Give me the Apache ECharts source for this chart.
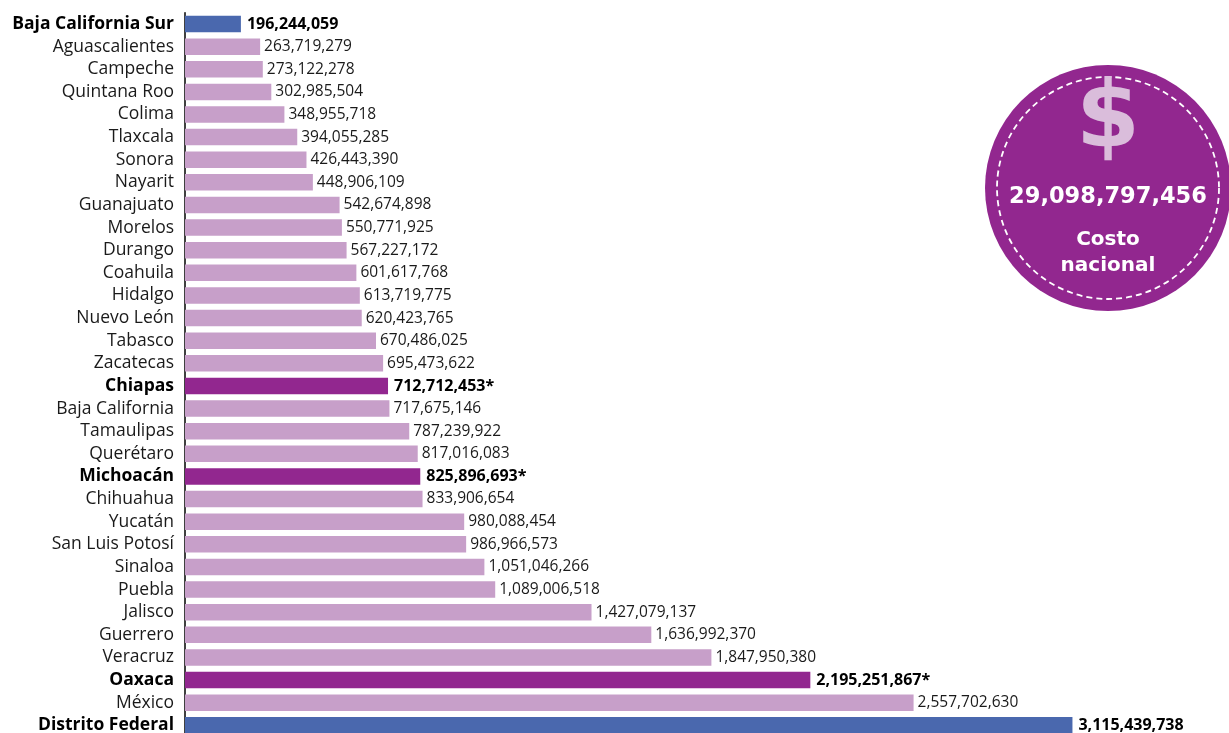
<!DOCTYPE html>
<html>
<head>
<meta charset="utf-8">
<style>
  html, body { margin: 0; padding: 0; background: #ffffff; overflow: hidden; }
  /* the last bar runs past the bottom edge of the window, so the canvas is taller */
  #chart { width: 1229px; height: 760px; }
</style>
<script src="https://cdn.jsdelivr.net/npm/echarts@6/dist/echarts.min.js"></script>
</head>
<body>
<div id="chart"></div>
<script>
// States, listed from the lowest cost to the highest
const states = [
  'Baja California Sur', 'Aguascalientes', 'Campeche', 'Quintana Roo', 'Colima',
  'Tlaxcala', 'Sonora', 'Nayarit', 'Guanajuato', 'Morelos', 'Durango', 'Coahuila',
  'Hidalgo', 'Nuevo León', 'Tabasco', 'Zacatecas', 'Chiapas', 'Baja California',
  'Tamaulipas', 'Querétaro', 'Michoacán', 'Chihuahua', 'Yucatán', 'San Luis Potosí',
  'Sinaloa', 'Puebla', 'Jalisco', 'Guerrero', 'Veracruz', 'Oaxaca', 'México',
  'Distrito Federal'
];

// Cost per state (pesos)
const costs = [
  196244059, 263719279, 273122278, 302985504, 348955718,
  394055285, 426443390, 448906109, 542674898, 550771925, 567227172, 601617768,
  613719775, 620423765, 670486025, 695473622, 712712453, 717675146,
  787239922, 817016083, 825896693, 833906654, 980088454, 986966573,
  1051046266, 1089006518, 1427079137, 1636992370, 1847950380, 2195251867, 2557702630,
  3115439738
];

// Lowest and highest cost
const extremes = ['Baja California Sur', 'Distrito Federal'];
// States whose figure carries a footnote mark
const flagged = ['Chiapas', 'Michoacán', 'Oaxaca'];

const nationalTotal = '29,098,797,456';
const nationalCaption = ['Costo', 'nacional'];

const COL_BASE = '#c79fc9';
const COL_FLAG = '#92278f';
const COL_EXT = '#4a68ae';
const TEXT = '#1a1a1a';

const fmt = v => v.toLocaleString('en-US');
const isStrong = s => extremes.includes(s) || flagged.includes(s);

const barData = states.map((s, i) => ({
  value: costs[i],
  itemStyle: {
    color: extremes.includes(s) ? COL_EXT : (flagged.includes(s) ? COL_FLAG : COL_BASE)
  },
  label: isStrong(s)
    ? { fontWeight: 'bold', fontSize: 16, color: '#000000', distance: 6 }
    : {}
}));

const chart = echarts.init(document.getElementById('chart'), null, { renderer: 'canvas' });

const cx = 1108, cy = 188;

chart.setOption({
  animation: false,
  backgroundColor: '#ffffff',
  grid: { left: 185, top: 12.7, width: 997, height: 723.9 },
  xAxis: {
    type: 'value',
    min: 0,
    max: 3500000000,
    show: false
  },
  yAxis: {
    type: 'category',
    data: states,
    inverse: true,
    axisLine: { show: true, lineStyle: { color: '#000000', width: 1.5 } },
    axisTick: { show: false },
    axisLabel: {
      interval: 0,
      margin: 11,
      fontFamily: 'Open Sans',
      fontSize: 17.5,
      color: TEXT,
      formatter: v => isStrong(v) ? '{b|' + v + '}' : v,
      rich: {
        b: { fontFamily: 'Open Sans', fontSize: 17.5, fontWeight: 'bold', color: '#000000' }
      }
    }
  },
  series: [{
    type: 'bar',
    data: barData,
    barWidth: 16.5,
    label: {
      show: true,
      position: 'right',
      distance: 4,
      fontFamily: 'Open Sans',
      fontSize: 15.5,
      color: TEXT,
      formatter: p => fmt(p.value) + (flagged.includes(p.name) ? '*' : '')
    }
  }],
  graphic: [
    {
      type: 'circle',
      shape: { cx: cx, cy: cy, r: 123 },
      style: { fill: '#92278f' },
      silent: true
    },
    {
      type: 'circle',
      shape: { cx: cx, cy: cy, r: 111 },
      style: { fill: 'none', stroke: '#ffffff', lineWidth: 1.8, lineDash: [6, 4] },
      silent: true
    },
    {
      type: 'text',
      x: cx, y: 123,
      style: {
        text: '$',
        fill: '#dabddb',
        font: 'bold 92px "DejaVu Sans"',
        align: 'center',
        verticalAlign: 'middle'
      },
      silent: true
    },
    {
      type: 'text',
      x: cx, y: 197,
      style: {
        text: nationalTotal,
        fill: '#ffffff',
        font: 'bold 22.5px "DejaVu Sans"',
        align: 'center',
        verticalAlign: 'middle'
      },
      silent: true
    },
    {
      type: 'text',
      x: cx, y: 240,
      style: {
        text: nationalCaption[0],
        fill: '#ffffff',
        font: 'bold 20px "DejaVu Sans"',
        align: 'center',
        verticalAlign: 'middle'
      },
      silent: true
    },
    {
      type: 'text',
      x: cx, y: 266,
      style: {
        text: nationalCaption[1],
        fill: '#ffffff',
        font: 'bold 20px "DejaVu Sans"',
        align: 'center',
        verticalAlign: 'middle'
      },
      silent: true
    }
  ]
});
</script>
</body>
</html>
